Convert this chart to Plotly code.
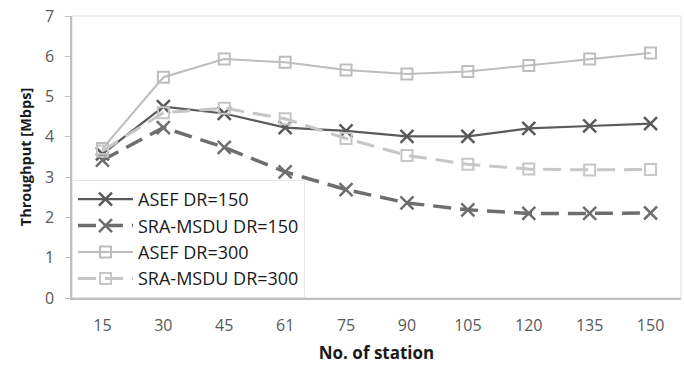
import plotly.graph_objects as go

stations = ["15", "30", "45", "61", "75", "90", "105", "120", "135", "150"]
asef_150 = [3.58, 4.75, 4.58, 4.23, 4.15, 4.01, 4.01, 4.21, 4.27, 4.33]
sra_150 = [3.42, 4.23, 3.74, 3.13, 2.69, 2.36, 2.19, 2.1, 2.1, 2.11]
asef_300 = [3.71, 5.48, 5.93, 5.85, 5.66, 5.56, 5.62, 5.77, 5.93, 6.08]
sra_300 = [3.65, 4.6, 4.71, 4.45, 3.96, 3.54, 3.32, 3.2, 3.18, 3.19]

names = ["ASEF DR=150", "SRA-MSDU DR=150", "ASEF DR=300", "SRA-MSDU DR=300"]
series = [asef_150, sra_150, asef_300, sra_300]
colors = ["#5a5a5a", "#6e6e6e", "#bdbdbd", "#c6c6c6"]
dashes = ["solid", "18px,9px", "solid", "18px,9px"]
widths = [2.2, 3.5, 2, 3]
symbols = ["x-thin", "x-thin", "square-open", "square-open"]
msizes = [13, 13, 11, 11]

fig = go.Figure()
for n, s, c, d, w, sym, ms in zip(names, series, colors, dashes, widths, symbols, msizes):
    fig.add_trace(go.Scatter(
        x=stations, y=s, name=n, mode="lines+markers",
        line=dict(color=c, width=w, dash=d),
        marker=dict(symbol=sym, size=ms, color=c,
                    line=dict(color=c, width=2.5 if "x" in sym else 2)),
    ))

fig.add_shape(type="rect", xref="paper", yref="paper", x0=0, y0=0, x1=1, y1=1,
              line=dict(color="#e2e2e2", width=1.2), layer="below")

fig.update_layout(
    width=684, height=367,
    margin=dict(l=72, r=3, t=16, b=69),
    paper_bgcolor="white", plot_bgcolor="white",
    font=dict(family="Open Sans, Noto Sans, sans-serif", color="#404040"),
    showlegend=True,
    legend=dict(
        x=0.0, y=0.0, xanchor="left", yanchor="bottom",
        bgcolor="white", bordercolor="#e6e6e6", borderwidth=1,
        font=dict(size=18, color="#1a1a1a"),
        itemwidth=55, tracegroupgap=0,
    ),
    xaxis=dict(
        type="category", range=[-0.5, 9.5],
        showline=True, linecolor="#bfbfbf", linewidth=1.5,
        showgrid=False, ticks="", ticklabelstandoff=12,
        tickfont=dict(size=16, color="#595959"),
        title=dict(text="<b>No. of station</b>", font=dict(size=17, color="#1a1a1a"), standoff=12),
    ),
    yaxis=dict(
        range=[0, 7], dtick=1,
        showline=True, linecolor="#bfbfbf", linewidth=1.5,
        showgrid=False, ticks="outside", ticklen=5, tickcolor="#bfbfbf",
        ticklabelstandoff=8,
        tickfont=dict(size=16, color="#595959"),
        title=dict(text="<b>Throughput [Mbps]</b>", font=dict(size=14.5, color="#1a1a1a"), standoff=10),
    ),
)

fig.write_html("out.html")
